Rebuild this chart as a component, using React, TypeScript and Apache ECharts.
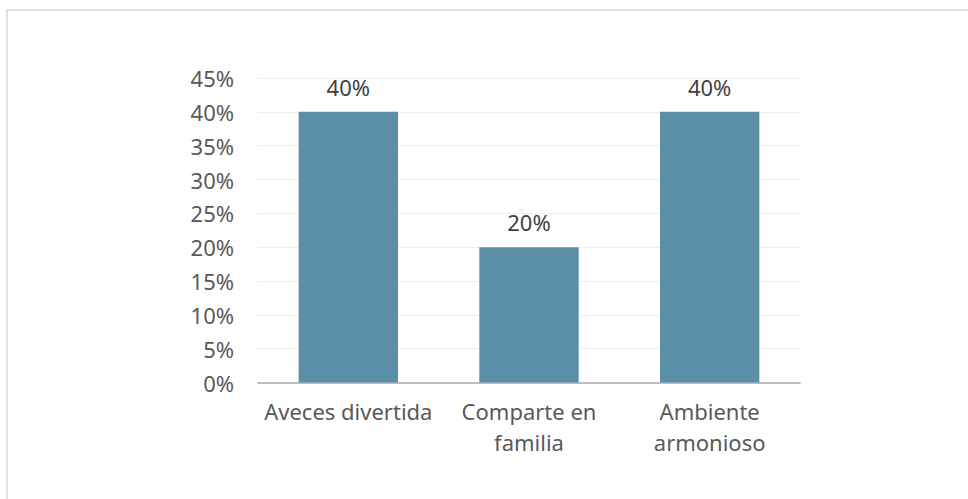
import React, { useEffect, useRef } from "react";
import * as echarts from "echarts";

const categories = ["Aveces divertida", "Comparte en\nfamilia", "Ambiente\narmonioso"];
const values = [40, 20, 40];
const yTicks = [0, 5, 10, 15, 20, 25, 30, 35, 40, 45];

const FONT = "Noto Sans";

export default function App() {
  const ref = useRef<HTMLDivElement>(null);
  useEffect(() => {
    if (!ref.current) return;
    const chart = echarts.init(ref.current, undefined, { renderer: "svg" });
    chart.setOption({
      animation: false,
      backgroundColor: "#ffffff",
      graphic: [
        {
          type: "rect",
          shape: { x: 7, y: 10, width: 1200, height: 1200 },
          style: { fill: "none", stroke: "#d9d9d9", lineWidth: 1.5 },
          silent: true,
        },
      ],
      grid: { left: 258, right: 168, top: 78, bottom: 116.5, containLabel: false },
      xAxis: {
        type: "category",
        data: categories,
        axisLine: { show: true, lineStyle: { color: "#bfbfbf", width: 2 } },
        axisTick: { show: false },
        axisLabel: {
          color: "#595959",
          fontFamily: FONT,
          fontSize: 22,
          lineHeight: 31,
          margin: 13,
          interval: 0,
        },
      },
      yAxis: {
        type: "value",
        min: yTicks[0],
        max: yTicks[yTicks.length - 1],
        interval: 5,
        axisLine: { show: false },
        axisTick: { show: false },
        splitLine: { show: true, lineStyle: { color: "#eeeeee", width: 1 } },
        axisLabel: {
          color: "#595959",
          fontFamily: FONT,
          fontSize: 22,
          margin: 24,
          formatter: (v: number) => `${v}%`,
        },
      },
      series: [
        {
          type: "bar",
          data: values,
          barCategoryGap: "45%",
          itemStyle: { color: "#5b8fa7" },
          label: {
            show: true,
            position: "top",
            distance: 14,
            color: "#404040",
            fontFamily: FONT,
            fontSize: 22,
            formatter: (p: any) => `${p.value}%`,
          },
        },
      ],
    });
    return () => chart.dispose();
  }, []);
  return (
    <div
      ref={ref}
      style={{ position: "fixed", left: 0, top: 0, width: 968, height: 499 }}
    />
  );
}
